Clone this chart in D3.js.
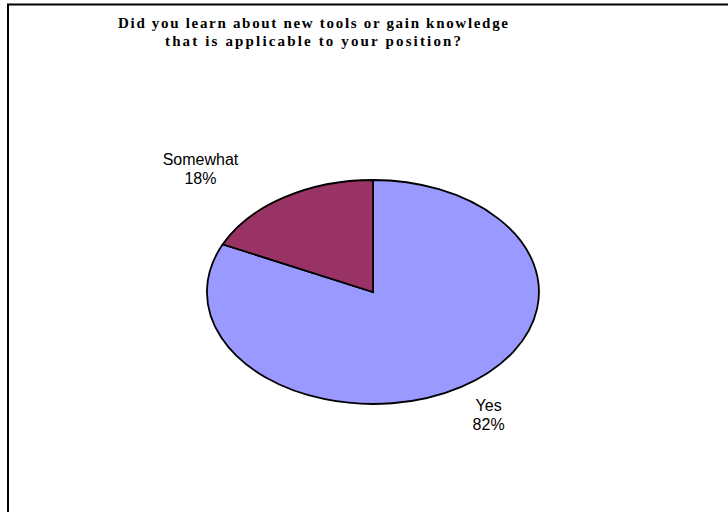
<!DOCTYPE html>
<html>
<head>
<meta charset="utf-8">
<script src="https://cdn.jsdelivr.net/npm/d3@7"></script>
<style>
  body { margin: 0; background: #fff; }
  svg { display: block; }
</style>
</head>
<body>
<div id="container"></div>
<script>
// data
var categories = ["Yes", "Somewhat"];
var values = [82, 18];
var titleLines = ["Did you learn about new tools or gain knowledge",
                  "that is applicable to your position?"];

// settings
var width = 728, height = 512,
    center = {x: 373, y: 292},
    radius = {x: 166, y: 112},
    col = {Yes: "#9999ff", Somewhat: "#993366"},
    // label placement factors along each slice's mid angle (x, y)
    labelFactor = {Yes: [1.3, 1.29], Somewhat: [1.94, 1.31]};

var svg = d3.select("#container")
    .append("svg")
    .attr("width", width)
    .attr("height", height);

svg.append("rect")
    .attr("width", width)
    .attr("height", height)
    .attr("fill", "#fff");

// chart frame (only top & left edges are visible)
svg.append("path")
    .attr("d", "M8," + height + "V4.5H" + width)
    .attr("fill", "none")
    .attr("stroke", "#000")
    .attr("stroke-width", 2);

// title
svg.append("text")
    .attr("class", "title")
    .attr("x", 313)
    .attr("y", 28)
    .attr("textLength", 390)
    .text(titleLines[0]);
svg.append("text")
    .attr("class", "title")
    .attr("x", 313)
    .attr("y", 46)
    .attr("textLength", 296)
    .text(titleLines[1]);
svg.selectAll(".title")
    .attr("text-anchor", "middle")
    .attr("lengthAdjust", "spacing")
    .style("font-family", "'Liberation Serif', 'Times New Roman', serif")
    .style("font-weight", "bold")
    .style("font-size", "15px")
    .attr("fill", "#000");

// pie (unit circle scaled into an ellipse)
var rows = categories.map(function(c, i) { return {name: c, value: values[i]}; });
var pie = d3.pie().sort(null).value(function(d) { return d.value; });
var arc = d3.arc().innerRadius(0).outerRadius(1);
var arcs = pie(rows);

var pieArea = svg.append("g")
    .attr("transform", "translate(" + center.x + "," + center.y + ") scale(" + radius.x + "," + radius.y + ")");

pieArea.selectAll("path")
    .data(arcs)
    .enter()
    .append("path")
        .attr("d", arc)
        .attr("fill", function(d) { return col[d.data.name]; })
        .attr("stroke", "#000")
        .attr("stroke-width", 1.8)
        .attr("vector-effect", "non-scaling-stroke");

// labels
var labels = svg.selectAll(".label")
    .data(arcs)
    .enter()
    .append("text")
        .attr("class", "label")
        .attr("text-anchor", "middle")
        .attr("transform", function(d) {
            var a = (d.startAngle + d.endAngle) / 2,
                f = labelFactor[d.data.name];
            var x = center.x + Math.sin(a) * radius.x * f[0],
                y = center.y - Math.cos(a) * radius.y * f[1];
            return "translate(" + x + "," + y + ")";
        })
        .style("font-family", "'Liberation Sans', Arial, sans-serif")
        .style("font-size", "16px")
        .attr("fill", "#000");

labels.append("tspan")
    .attr("x", 0)
    .attr("y", -3)
    .text(function(d) { return d.data.name; });
labels.append("tspan")
    .attr("x", 0)
    .attr("y", 16)
    .text(function(d) { return d.data.value + "%"; });
</script>
</body>
</html>
